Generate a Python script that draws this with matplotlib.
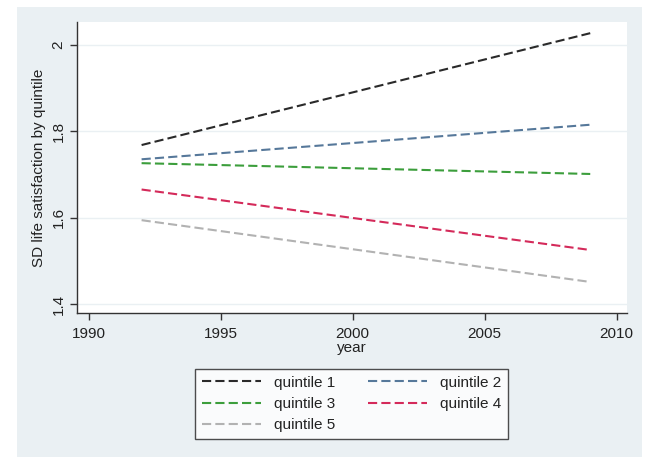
import matplotlib
matplotlib.use("Agg")
import matplotlib.pyplot as plt
from matplotlib.patches import Rectangle

# Data (fitted lines, endpoints only)
years = [1992, 2009]
quintile_1 = [1.768, 2.027]
quintile_2 = [1.735, 1.815]
quintile_3 = [1.726, 1.701]
quintile_4 = [1.665, 1.525]
quintile_5 = [1.594, 1.451]
labels = ["quintile 1", "quintile 2", "quintile 3", "quintile 4", "quintile 5"]
colors = ["#2a2a2a", "#56789a", "#3c9e3c", "#d42a5a", "#b2b2b2"]

x_ticks = [1990, 1995, 2000, 2005, 2010]
y_ticks = [1.4, 1.6, 1.8, 2.0]
y_ticklabels = ["1.4", "1.6", "1.8", "2"]

plt.rcParams["font.family"] = ["Liberation Sans", "DejaVu Sans"]
plt.rcParams["font.size"] = 11

fig = plt.figure(figsize=(6.51, 4.57), dpi=100, facecolor="white")

# light blue-grey graph region
bg = "#eaf0f3"
fig.patches.append(Rectangle((0.026, 0.0), 0.96, 0.985, transform=fig.transFigure,
                             facecolor=bg, edgecolor="none", zorder=-10))

ax = fig.add_axes([0.119, 0.315, 0.844, 0.637])
ax.set_facecolor("white")

series = [quintile_1, quintile_2, quintile_3, quintile_4, quintile_5]
for vals, lab, col in zip(series, labels, colors):
    ax.plot(years, vals, color=col, lw=1.5, dashes=(4.4, 2.0), label=lab)

ax.set_xlim(1989.57, 2010.39)
ax.set_ylim(1.379, 2.053)
ax.set_xticks(x_ticks)
ax.set_yticks(y_ticks)
ax.set_yticklabels(y_ticklabels, rotation=90, va="center")

ax.grid(axis="y", color="#eaf0f3", lw=1.0)
ax.set_axisbelow(True)
for side in ["top", "right"]:
    ax.spines[side].set_visible(False)
for side in ["left", "bottom"]:
    ax.spines[side].set_color("#333333")
    ax.spines[side].set_linewidth(1.0)
ax.tick_params(direction="out", length=5, width=1.0, color="#333333", labelcolor="#222222")
ax.tick_params(axis="x", pad=5)

ax.set_xlabel("year", labelpad=0, color="#222222")
ax.set_ylabel("SD life satisfaction by quintile", labelpad=4, color="#222222")

# legend in a box below the plot
handles, hl = ax.get_legend_handles_labels()
order = [0, 2, 4, 1, 3]
leg = fig.legend([handles[i] for i in order], [hl[i] for i in order],
                 ncol=2, loc="lower left",
                 bbox_to_anchor=(0.2995, 0.039, 0.4805, 0.16), mode="expand",
                 frameon=True, fancybox=False, edgecolor="#222222",
                 handlelength=3.9, handletextpad=0.8, columnspacing=1.2,
                 labelspacing=0.48, borderaxespad=0.0, borderpad=0.45)
leg.get_frame().set_linewidth(1.0)
for t in leg.get_texts():
    t.set_color("#222222")

fig.savefig("out.png", dpi=100, facecolor="white")
